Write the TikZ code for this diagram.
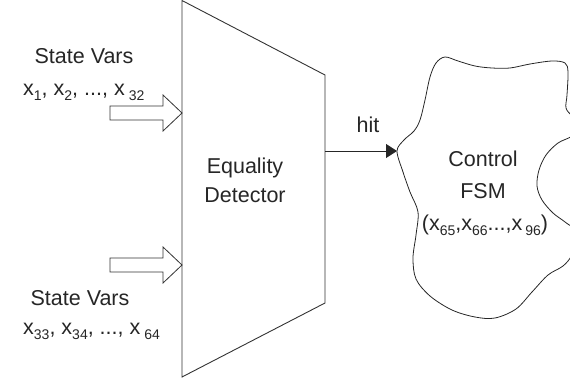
\documentclass[tikz,border=0pt]{standalone}
\usepackage{fontspec}
\setmainfont{Liberation Sans}
\usetikzlibrary{arrows.meta}
\newcommand{\sbx}[1]{\raisebox{-5pt}{\fontsize{14}{14}\selectfont #1}}
\begin{document}
\begin{tikzpicture}[x=1pt,y=-1pt,
  lbl/.style={font=\fontsize{21.5}{29}\selectfont, text=black!85, inner sep=0pt, anchor=base},
  lblw/.style={lbl, anchor=base west},
  shapeline/.style={draw=black!80, line width=0.9pt},
  hollow/.style={draw=black!80, line width=0.8pt, fill=white}]
\useasboundingbox (0,0) rectangle (570,383);
\clip (0,0) rectangle (570,383);

% Equality detector trapezoid
\coordinate (tl) at (182,0.5);
\coordinate (tr) at (325,75);
\coordinate (br) at (325,303);
\coordinate (bl) at (182,377);
\draw[shapeline] (tl) -- (tr) -- (br) -- (bl) -- cycle;
\node[lbl] (eq1) at (245,173) {Equality};
\node[lbl] (eq2) at (245,202) {Detector};

% Input labels
\node[lbl] (sv1) at (84,63) {State Vars};
\node[lblw] (xs1) at (23,95) {x\sbx{1}, x\sbx{2}, ..., x\hspace{4pt}\sbx{32}};
\node[lbl] (sv2) at (80,305) {State Vars};
\node[lblw] (xs2) at (23,334) {x\sbx{33}, x\sbx{34}, ..., x\hspace{4pt}\sbx{64}};

% Hollow input arrows
\coordinate (tip1) at (182,113);
\coordinate (tip2) at (182,265);
\draw[hollow] (110,106) -- (163,106) -- (163,95) -- (tip1) -- (163,131) -- (163,120) -- (110,120) -- cycle;
\draw[hollow] (110,258) -- (163,258) -- (163,247) -- (tip2) -- (163,283) -- (163,272) -- (110,272) -- cycle;

% Control FSM cloud
\draw[draw=black!85, line width=0.8pt] plot[smooth cycle, tension=0.55] coordinates {
 (397,151) (404,140) (414,131) (420,120) (425,100) (430,77) (436,63) (445,57)
 (458,61) (475,66) (492,68) (510,68) (530,64) (552,61) (565,63) (568,72)
 (567,95) (566,108) (572,116) (580,125) (572,136) (558,143) (546,155)
 (539,170) (537,186) (542,200) (553,213) (565,222) (580,235) (572,255)
 (563,266) (548,275) (532,292) (516,309) (495,318) (475,317) (452,310)
 (430,296) (416,279) (413,258) (416,235) (418,212) (410,192) (403,172)};
\node[lbl] (c1) at (483,166) {Control};
\node[lbl] (c2) at (483,198) {FSM};
\node[lbl] (c3) at (485,230) {(x\sbx{65},x\sbx{66}...,x\hspace{3pt}\sbx{96})};

% hit connector
\coordinate (out) at (325,151);
\coordinate (in) at (397,151);
\draw[draw=black!85, line width=0.9pt, -{Triangle[length=11pt,width=14pt]}] (out) -- (in);
\node[lbl] (hit) at (368,132) {hit};
\end{tikzpicture}
\end{document}
